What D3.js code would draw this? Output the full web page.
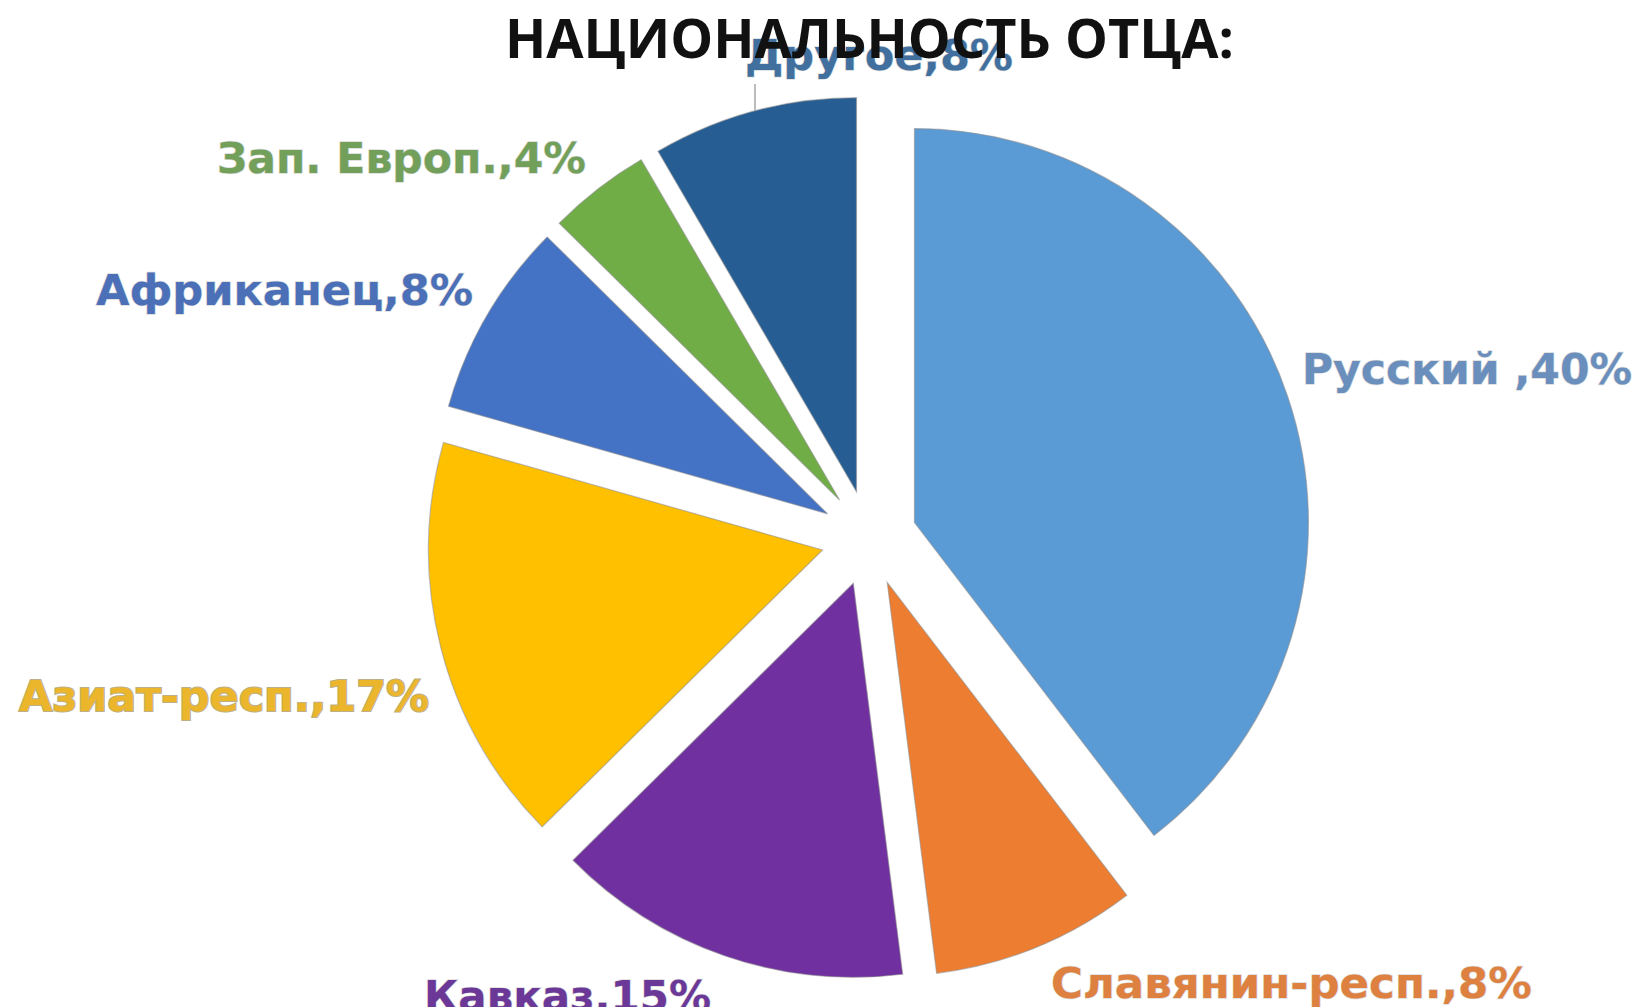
<!DOCTYPE html>
<html>
<head>
<meta charset="utf-8">
<script src="https://cdn.jsdelivr.net/npm/d3@7"></script>
<style>
  body { margin: 0; background: #fff; }
  svg { display: block; }
</style>
</head>
<body>
<svg width="1640" height="1007"></svg>
<script>
// data (shares, labels show them rounded)
var categories = ["Русский ", "Славянин-респ.", "Кавказ", "Азиат-респ.", "Африканец", "Зап. Европ.", "Другое"];
var values     = [39.6, 8.4, 14.6, 16.8, 8.0, 4.2, 8.4];
var sliceColors = ["#5b9bd5", "#ed7d31", "#7030a0", "#ffc000", "#4472c4", "#70ad47", "#265e93"];
var labelColors = ["#6a8fbd", "#dd8040", "#6b3898", "#ecb62c", "#4b70b7", "#72a05a", "#41709f"];
var title = "НАЦИОНАЛЬНОСТЬ ОТЦА:";

// label placement (left x, baseline y, text width) - as excel left them
var labelLayout = [
  [1302, 384, 330],
  [1051, 998, 481],
  [424, 1011, 287],
  [19, 711, 410],
  [96, 305, 377],
  [217, 173, 369],
  [745, 70, 268]
];

var svg = d3.select("svg");
var cx = 869, cy = 538;
var radius = 394;
var explode = 48;

var pie = d3.pie().sort(null).value(function(d) { return d; });
var arc = d3.arc().innerRadius(0).outerRadius(radius);
var arcs = pie(values);

function offset(d) {
  var a = (d.startAngle + d.endAngle) / 2;
  return [Math.sin(a) * explode, -Math.cos(a) * explode];
}

var gPie = svg.append("g").attr("transform", "translate(" + cx + "," + cy + ")");

gPie.selectAll("path")
  .data(arcs)
  .enter()
  .append("path")
  .attr("d", arc)
  .attr("transform", function(d) { var o = offset(d); return "translate(" + o[0] + "," + o[1] + ")"; })
  .attr("fill", function(d, i) { return sliceColors[i]; })
  .style("stroke", "#8c8c8c")
  .style("stroke-opacity", 0.55)
  .style("stroke-width", 1.2);

// leader line for "Другое" (label sits above the slice)
var last = arcs[arcs.length - 1];
var lo = offset(last);
var lx = labelLayout[6][0] + 10 - cx;
var ly = lo[1] - Math.sqrt(radius * radius - (lx - lo[0]) * (lx - lo[0]));
gPie.append("line")
  .attr("x1", lx).attr("x2", lx)
  .attr("y1", labelLayout[6][1] + 14 - cy)
  .attr("y2", ly)
  .style("stroke", "#a6a6a6")
  .style("stroke-width", 1.5);

// labels
svg.append("g")
  .selectAll("text")
  .data(arcs)
  .enter()
  .append("text")
  .attr("x", function(d, i) { return labelLayout[i][0]; })
  .attr("y", function(d, i) { return labelLayout[i][1]; })
  .attr("textLength", function(d, i) { return labelLayout[i][2]; })
  .attr("lengthAdjust", "spacingAndGlyphs")
  .style("font-family", "'DejaVu Sans', Verdana, sans-serif")
  .style("font-weight", "bold")
  .style("font-size", "42px")
  .style("fill", function(d, i) { return labelColors[i]; })
  .style("stroke", function(d, i) { return i == 3 ? "#a89a6a" : "#9a9a9a"; })
  .style("stroke-opacity", function(d, i) { return i == 3 ? 0.8 : 0.35; })
  .style("stroke-width", function(d, i) { return i == 3 ? 2 : 1.5; })
  .style("paint-order", "stroke")
  .text(function(d, i) { return categories[i] + "," + Math.round(values[i]) + "%"; });

// title on top
svg.append("text")
  .attr("x", 505)
  .attr("y", 58)
  .attr("textLength", 729)
  .attr("lengthAdjust", "spacingAndGlyphs")
  .style("font-family", "'Open Sans', 'Noto Sans', sans-serif")
  .style("font-weight", "bold")
  .style("font-size", "54px")
  .style("fill", "#111")
  .text(title);
</script>
</body>
</html>
